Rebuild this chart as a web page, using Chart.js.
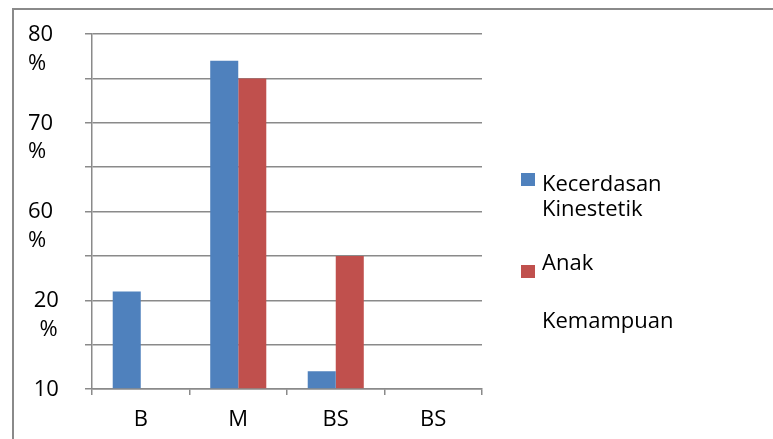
<!DOCTYPE html>
<html>
<head>
<meta charset="utf-8">
<script src="https://cdn.jsdelivr.net/npm/chart.js@4"></script>
<style>
  body { margin: 0; background: #fff; font-family: "Open Sans", sans-serif; }
  #wrap { position: relative; width: 773px; height: 439px; overflow: hidden; }
  #frame { position: absolute; left: 12px; top: 8px; width: 800px; height: 500px;
           border-left: 2px solid #8a8a8a; border-top: 2px solid #8a8a8a; }
  canvas { position: absolute; left: 0; top: 0; }
  .key { position: absolute; width: 14px; height: 13px; }
  .lbl { position: absolute; left: 542px; font-size: 22px; line-height: 25px; color: #000; white-space: nowrap; }
</style>
</head>
<body>
<div id="wrap">
  <div id="frame"></div>
  <canvas id="chart" width="773" height="439"></canvas>
  <div class="key" style="left:521px;top:173px;background:#4F81BD"></div>
  <div class="lbl" style="top:170px">Kecerdasan<br>Kinestetik</div>
  <div class="key" style="left:521px;top:265px;background:#C0504D"></div>
  <div class="lbl" style="top:249px">Anak</div>
  <div class="lbl" style="top:307px">Kemampuan</div>
</div>
<script>
// data
const categories = ['B', 'M', 'BS', 'BS'];
const kinestetik = [22, 74, 4, null];
const kemampuan = [null, 70, 30, null];
// tick labels shown on the y axis (value -> text)
const yTickLabels = { 80: ['80', '%'], 60: ['70', '%'], 40: ['60', '%'], 20: [' 20', '  %'], 0: [' 10', ''] };

const gridGray = '#8a8a8a';

const ctx = document.getElementById('chart').getContext('2d');
const chart = new Chart(ctx, {
  type: 'bar',
  data: {
    labels: categories,
    datasets: [
      { label: 'Kecerdasan Kinestetik', data: kinestetik, backgroundColor: '#4F81BD' },
      { label: 'Anak Kemampuan', data: kemampuan, backgroundColor: '#C0504D' }
    ]
  },
  options: {
    responsive: false,
    animation: false,
    categoryPercentage: 0.575,
    barPercentage: 1,
    layout: { padding: { left: 28, top: 34, right: 291, bottom: 0 } },
    plugins: { legend: { display: false }, tooltip: { enabled: false } },
    scales: {
      x: {
        grid: { offset: true, drawOnChartArea: false, drawTicks: true, tickLength: 6, color: gridGray, lineWidth: 1.5 },
        border: { display: true, color: gridGray, width: 1.5 },
        ticks: { color: '#000', font: { family: 'Open Sans', size: 22 }, padding: 12 },
        afterFit: function(scale) { scale.height = 50; scale.paddingLeft = 0; scale.paddingRight = 0; }
      },
      y: {
        min: 0,
        max: 80,
        grid: { color: gridGray, lineWidth: 1.5, tickLength: 7 },
        border: { display: true, color: gridGray, width: 1.5 },
        ticks: {
          stepSize: 10,
          autoSkip: false,
          color: '#000',
          crossAlign: 'far',
          labelOffset: 15,
          font: { family: 'Open Sans', size: 22, lineHeight: 1.3 },
          callback: function(value) { return yTickLabels[value] || ''; }
        },
        afterFit: function(scale) { scale.width = 64; scale.paddingTop = 0; scale.paddingBottom = 0; }
      }
    }
  }
});
</script>
</body>
</html>
